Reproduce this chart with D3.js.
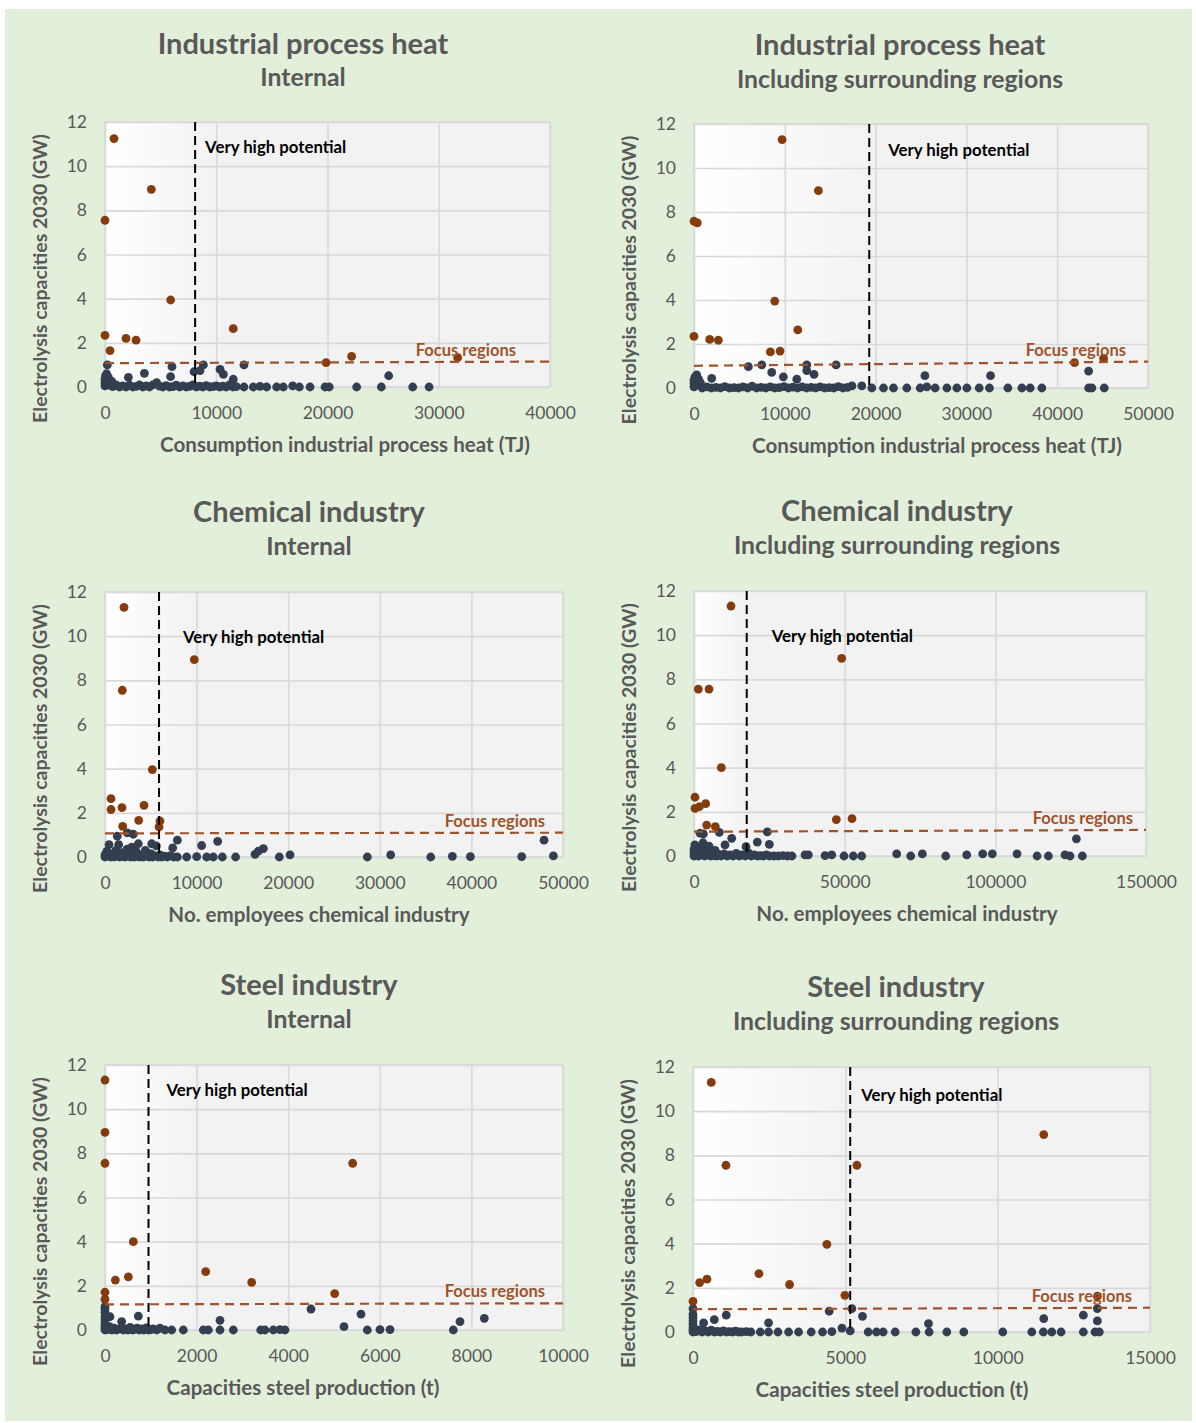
<!DOCTYPE html>
<html>
<head>
<meta charset="utf-8">
<script src="https://cdn.jsdelivr.net/npm/d3@7/dist/d3.min.js"></script>
<style>
  body { margin: 0; background: #fff; }
  text { font-family: Lato, "Open Sans", sans-serif; }
</style>
</head>
<body>
<div class="chart"></div>
<script>
// ---- data ----
const yTicks = [0, 2, 4, 6, 8, 10, 12];

const titles = ["Industrial process heat", "Industrial process heat", "Chemical industry",
                "Chemical industry", "Steel industry", "Steel industry"];
const subtitles = ["Internal", "Including surrounding regions", "Internal",
                   "Including surrounding regions", "Internal", "Including surrounding regions"];
const xTitles = ["Consumption industrial process heat (TJ)", "Consumption industrial process heat (TJ)",
                 "No. employees chemical industry", "No. employees chemical industry",
                 "Capacities steel production (t)", "Capacities steel production (t)"];
const yTitle = "Electrolysis capacities 2030 (GW)";

const xTicks = [
  [0, 10000, 20000, 30000, 40000],
  [0, 10000, 20000, 30000, 40000, 50000],
  [0, 10000, 20000, 30000, 40000, 50000],
  [0, 50000, 100000, 150000],
  [0, 2000, 4000, 6000, 8000, 10000],
  [0, 5000, 10000, 15000]
];

// "Very high potential" threshold (x value of vertical dashed line)
const potentialLimit = [8100, 19300, 5900, 17500, 950, 5160];

// "Focus regions" line: [x, y] at both ends
const focusLines = [
  [[0, 1.08], [40000, 1.15]],
  [[0, 1.01], [50000, 1.2]],
  [[0, 1.07], [50000, 1.1]],
  [[0, 1.1], [150000, 1.18]],
  [[0, 1.16], [10000, 1.21]],
  [[0, 1.03], [15000, 1.1]]
];

// focus regions (orange points)
const heatIntFocus = [[809, 11.25], [4165, 8.95], [0, 7.55], [5900, 3.94], [0, 2.34], [1890, 2.2],
  [2790, 2.12], [450, 1.65], [11530, 2.64], [19870, 1.1], [22170, 1.39], [31700, 1.33]];
const heatSurFocus = [[9700, 11.29], [13700, 8.97], [0, 7.58], [370, 7.51], [8890, 3.95], [0, 2.35],
  [1730, 2.21], [2680, 2.17], [11430, 2.64], [8410, 1.64], [9480, 1.68], [41910, 1.15], [45110, 1.35]];
const chemIntFocus = [[2074, 11.3], [9750, 8.94], [1890, 7.55], [5170, 3.96], [655, 2.64], [655, 2.15],
  [1856, 2.24], [4260, 2.34], [3680, 1.66], [1930, 1.39], [6000, 1.63], [5900, 1.36]];
const chemSurFocus = [[12280, 11.32], [49010, 8.95], [1440, 7.56], [4980, 7.56], [9070, 4.0], [330, 2.66],
  [330, 2.16], [1770, 2.23], [3880, 2.37], [4200, 1.4], [7080, 1.33], [47230, 1.65], [52440, 1.69]];
const steelIntFocus = [[0, 11.32], [0, 8.95], [0, 7.55], [5408, 7.55], [618, 4.0], [226, 2.26], [509, 2.41],
  [2198, 2.64], [3202, 2.16], [5015, 1.65], [0, 1.71], [0, 1.39]];
const steelSurFocus = [[600, 11.3], [11513, 8.94], [1082, 7.55], [5379, 7.55], [4395, 3.97], [217, 2.24],
  [459, 2.39], [2165, 2.64], [3169, 2.15], [4986, 1.66], [0, 1.39], [13272, 1.62]];

// other regions (dark points)
const heatIntOther = [[0, 0.05], [0, 0.2], [0, 0.35], [50, 0.5], [150, 0.6], [300, 0.45], [250, 0.15],
  [600, 0.25], [450, 0.08], [700, 0.02], [1000, 0.1], [1300, 0], [1600, 0.05], [1900, 0], [2200, 0.08],
  [2500, 0], [2800, 0.03], [3100, 0.1], [3400, 0], [3700, 0.05], [4000, 0], [4300, 0.1], [4640, 0.2],
  [4900, 0.04], [5200, 0], [5500, 0.06], [5800, 0], [6100, 0.02], [6400, 0.08], [6700, 0], [7000, 0.05],
  [7300, 0], [7600, 0.03], [7900, 0.1], [8200, 0], [8500, 0.04], [8800, 0], [9100, 0.06], [9400, 0],
  [9700, 0.02], [10000, 0.05], [10300, 0], [10600, 0.04], [10900, 0], [11200, 0.1], [11500, 0], [11800, 0.02],
  [210, 1.0], [2100, 0.44], [3540, 0.62], [6020, 0.92], [5900, 0.47], [8000, 0.69], [8540, 0.74], [8840, 1.0],
  [10340, 0.8], [10640, 0.57], [11530, 0.35], [12490, 1.0], [25500, 0.51],
  [12490, 0], [13330, 0], [13930, 0.03], [14530, 0], [15430, 0], [16030, 0], [16870, 0.05], [17470, 0],
  [18430, 0], [19780, 0], [20160, 0], [22620, 0], [24840, 0], [27660, 0], [29130, 0]];
const heatSurOther = [[0, 0.05], [0, 0.2], [0, 0.35], [100, 0.5], [300, 0.6], [200, 0.15], [500, 0.4],
  [700, 0.25], [900, 0], [1400, 0.05], [1900, 0], [2400, 0.03], [2900, 0], [3400, 0.06], [3900, 0],
  [4400, 0.02], [4900, 0], [5400, 0.05], [5900, 0], [6400, 0.08], [6900, 0], [7400, 0.03], [7900, 0],
  [8400, 0.05], [8900, 0], [9400, 0.02], [9900, 0.06], [10400, 0], [10900, 0.04], [11400, 0], [11900, 0.05],
  [12400, 0], [12900, 0.03], [13400, 0], [13900, 0.05], [14400, 0], [14900, 0.02], [15400, 0], [15900, 0.06],
  [16400, 0], [16900, 0.03], [17400, 0.1],
  [1950, 0.44], [5990, 0.97], [7460, 1.05], [8560, 0.71], [9840, 0.51], [11320, 0.4], [12420, 1.05],
  [12420, 0.79], [13220, 0.62], [15650, 1.05], [25430, 0.56], [32660, 0.56], [43460, 0.77],
  [18480, 0.1], [19580, 0], [20870, 0], [21970, 0], [23440, 0], [24910, 0], [25640, 0.05], [26560, 0],
  [27850, 0], [28950, 0], [30050, 0], [31410, 0], [32540, 0], [34570, 0], [36110, 0], [37030, 0],
  [38310, 0], [43460, 0], [43820, 0], [45180, 0]];
const chemIntOther = [[0, 0], [0, 0.1], [200, 0.25], [400, 0.05], [600, 0], [800, 0.15], [1000, 0],
  [1200, 0.3], [1400, 0.05], [1600, 0], [1800, 0.2], [2000, 0.02], [2200, 0], [2400, 0.35], [2600, 0.05],
  [2800, 0], [3000, 0.12], [3200, 0], [3400, 0.25], [3600, 0.03], [3800, 0], [4000, 0.1], [4200, 0],
  [4400, 0.3], [4600, 0.05], [4800, 0], [5000, 0.15], [5200, 0], [5400, 0.06], [5600, 0.5], [5800, 0],
  [6000, 0.1], [6200, 0], [6500, 0.04], [6800, 0], [7100, 0.05], [7500, 0], [7900, 0],
  [2440, 1.09], [3090, 1.03], [1340, 0.94], [440, 0.56], [1490, 0.56], [2910, 0.45], [3640, 0.6],
  [5090, 0.6], [7390, 0.41], [7900, 0.76], [10550, 0.52], [12300, 0.71], [16380, 0.12], [16740, 0.27],
  [17290, 0.38], [47930, 0.76],
  [8920, 0], [10010, 0.02], [11100, 0], [11820, 0], [12810, 0], [14260, 0], [19030, 0], [20200, 0.1],
  [28640, 0], [31190, 0.1], [35560, 0], [37920, 0.03], [39890, 0.02], [45490, 0.02], [48950, 0.05]];
const chemSurOther = [[0, 0], [0, 0.15], [0, 0.3], [300, 0.5], [600, 0.05], [1000, 0.2], [1500, 0],
  [2000, 0.4], [2500, 0.1], [3000, 0.6], [3500, 0], [4000, 0.3], [4500, 0.05], [5000, 0.45], [5500, 0],
  [6000, 0.15], [6500, 0.02], [7000, 0.25], [7500, 0], [8000, 0.08], [9000, 0], [10000, 0.1], [11000, 0],
  [12000, 0.05], [13000, 0], [14000, 0.12], [15000, 0], [16000, 0.05], [17000, 0], [18000, 0.15],
  [19000, 0], [20000, 0.05], [21000, 0], [22000, 0.02], [23000, 0], [24000, 0.05], [25000, 0], [26500, 0],
  [28000, 0], [29500, 0.02], [31000, 0], [32500, 0],
  [24330, 1.09], [21010, 0.63], [25000, 0.53], [8400, 1.07], [12510, 0.8], [10290, 0.5], [17260, 0.42],
  [1990, 1.03], [3100, 1.0], [126900, 0.78],
  [36840, 0.05], [37940, 0.05], [43480, 0.02], [45700, 0.05], [49780, 0], [52880, 0], [55650, 0],
  [67270, 0.1], [71920, 0], [75780, 0.1], [83530, 0], [90500, 0.05], [95810, 0.1], [98990, 0.1],
  [107200, 0.1], [113850, 0], [117610, 0], [123130, 0.05], [124790, 0], [128880, 0]];
const steelIntOther = [[0, 0], [0, 0.1], [0, 0.2], [0, 0.3], [0, 0.45], [0, 0.6], [0, 0.8], [0, 0.95],
  [50, 0.02], [100, 0.15], [150, 0], [200, 0.08], [250, 0], [300, 0.04], [350, 0.1], [400, 0], [450, 0.05],
  [500, 0], [550, 0.12], [600, 0], [650, 0.03], [700, 0.08], [750, 0], [800, 0.05], [850, 0], [900, 0.1],
  [950, 0], [1000, 0.02], [1050, 0.05], [1128, 0], [1200, 0.08], [1310, 0], [1456, 0], [1710, 0],
  [0, 1.06], [109, 0.6], [364, 0.38], [728, 0.63], [2511, 0.44], [4498, 0.95], [5590, 0.72], [7751, 0.38],
  [8282, 0.53], [5218, 0.15],
  [2147, 0], [2256, 0], [2511, 0], [2802, 0], [3400, 0], [3493, 0], [3675, 0], [3821, 0.02], [3930, 0],
  [5727, 0], [6004, 0.02], [6223, 0.02], [7605, 0]];
const steelSurOther = [[0, 0], [0, 0.1], [0, 0.2], [0, 0.35], [0, 0.5], [0, 0.65], [0, 0.8], [0, 1.06],
  [100, 0.02], [200, 0.1], [300, 0], [400, 0.05], [500, 0], [600, 0.08], [700, 0], [800, 0.03], [900, 0],
  [1000, 0.05], [1100, 0], [1200, 0.02], [1300, 0], [1400, 0.04], [1500, 0], [1600, 0], [1750, 0.02], [1900, 0],
  [5215, 1.06], [4471, 0.94], [5563, 0.71], [1092, 0.76], [699, 0.56], [348, 0.41], [2480, 0.41],
  [7729, 0.38], [11513, 0.61], [12812, 0.76], [13272, 1.06], [13272, 0.5], [4887, 0.18],
  [2208, 0], [2480, 0], [2788, 0], [3137, 0], [3465, 0], [3880, 0], [4251, 0], [4559, 0.02], [5160, 0.05],
  [5750, 0], [6023, 0], [6242, 0], [6636, 0], [7315, 0], [7751, 0], [8331, 0], [8888, 0], [10168, 0],
  [11120, 0], [11500, 0], [11776, 0], [12081, 0], [12812, 0], [13196, 0], [13337, 0]];

const focusSets = [heatIntFocus, heatSurFocus, chemIntFocus, chemSurFocus, steelIntFocus, steelSurFocus];
const otherSets = [heatIntOther, heatSurOther, chemIntOther, chemSurOther, steelIntOther, steelSurOther];

// ---- layout (pixel frames for each panel) ----
const frames = [
  { left: 105, right: 550, top: 122, bottom: 387, cx: 303, titleY: 54, subY: 86, xtX: 345, xtY: 452, vhpDx: 10, vhpY: 31, frDx: 34, gradEnd: 10000 },
  { left: 694, right: 1148, top: 124, bottom: 388, cx: 900, titleY: 55, subY: 88, xtX: 937, xtY: 453, vhpDx: 19, vhpY: 32, frDx: 22, gradEnd: 20000 },
  { left: 105, right: 563, top: 592, bottom: 857, cx: 309, titleY: 522, subY: 555, xtX: 319, xtY: 922, vhpDx: 24, vhpY: 51, frDx: 18, gradEnd: 10000 },
  { left: 694, right: 1146, top: 591, bottom: 856, cx: 897, titleY: 521, subY: 554, xtX: 907, xtY: 921, vhpDx: 25, vhpY: 51, frDx: 13, gradEnd: 17500 },
  { left: 105, right: 563, top: 1065, bottom: 1330, cx: 309, titleY: 995, subY: 1028, xtX: 303, xtY: 1395, vhpDx: 18, vhpY: 31, frDx: 18, gradEnd: 2000 },
  { left: 693, right: 1150, top: 1067, bottom: 1332, cx: 896, titleY: 997, subY: 1030, xtX: 892, xtY: 1397, vhpDx: 11, vhpY: 34, frDx: 18, gradEnd: 5200 }
];

const Gray = "#595959";
const FocusColor = "#843C0C";
const OtherColor = "#333F50";
const LineColor = "#A0522A";

const svg = d3.select(".chart").append("svg")
    .attr("width", 1196)
    .attr("height", 1423);

// green panel background
svg.append("rect")
    .attr("x", 5).attr("y", 9)
    .attr("width", 1187).attr("height", 1412)
    .attr("fill", "#E2EFDA");

const grad = svg.append("defs").append("linearGradient")
    .attr("id", "fade").attr("x1", 0).attr("x2", 1).attr("y1", 0).attr("y2", 0);
grad.append("stop").attr("offset", "0%").attr("stop-color", "#ffffff");
grad.append("stop").attr("offset", "100%").attr("stop-color", "#F2F2F2");

frames.forEach((f, i) => {
  const xMax = xTicks[i][xTicks[i].length - 1];
  const x = d3.scaleLinear().domain([0, xMax]).range([f.left, f.right]);
  const y = d3.scaleLinear().domain([0, 12]).range([f.bottom, f.top]);
  const w = f.right - f.left, h = f.bottom - f.top;
  const g = svg.append("g");

  // plot area
  g.append("rect").attr("x", f.left).attr("y", f.top).attr("width", w).attr("height", h)
      .attr("fill", "#F2F2F2");
  g.append("rect").attr("x", f.left).attr("y", f.top)
      .attr("width", x(f.gradEnd) - f.left).attr("height", h)
      .attr("fill", "url(#fade)");

  // y axis + horizontal grid
  const ya = g.append("g")
      .attr("transform", "translate(" + f.left + ",0)")
      .call(d3.axisLeft(y).tickValues(yTicks).tickSize(-w).tickPadding(18).tickFormat(d3.format("d")));
  // x axis + vertical grid
  const xa = g.append("g")
      .attr("transform", "translate(0," + f.bottom + ")")
      .call(d3.axisBottom(x).tickValues(xTicks[i]).tickSize(-h).tickPadding(20).tickFormat(d3.format("d")));

  [ya, xa].forEach(a => {
    a.select(".domain").remove();
    a.selectAll("line").attr("stroke", "#D9D9D9").attr("stroke-width", 1.6);
    a.selectAll("text").attr("fill", Gray).style("font-size", "17.5px");
  });

  g.append("rect").attr("x", f.left).attr("y", f.top).attr("width", w).attr("height", h)
      .attr("fill", "none").attr("stroke", "#D9D9D9").attr("stroke-width", 1.6);

  // points
  g.selectAll(".other").data(otherSets[i]).join("circle")
      .attr("class", "other")
      .attr("cx", d => x(d[0])).attr("cy", d => y(d[1])).attr("r", 4.4)
      .attr("fill", OtherColor);
  g.selectAll(".focus").data(focusSets[i]).join("circle")
      .attr("class", "focus")
      .attr("cx", d => x(d[0])).attr("cy", d => y(d[1])).attr("r", 4.4)
      .attr("fill", FocusColor);

  // focus regions line
  g.append("path")
      .datum(focusLines[i])
      .attr("d", d3.line().x(d => x(d[0])).y(d => y(d[1])))
      .attr("stroke", LineColor).attr("stroke-width", 2.2)
      .attr("stroke-dasharray", "9,6").attr("fill", "none");

  // very high potential line
  g.append("line")
      .attr("x1", x(potentialLimit[i])).attr("x2", x(potentialLimit[i]))
      .attr("y1", f.top).attr("y2", f.bottom)
      .attr("stroke", "#000").attr("stroke-width", 2)
      .attr("stroke-dasharray", "9,5");

  g.append("text")
      .attr("x", x(potentialLimit[i]) + f.vhpDx).attr("y", f.top + f.vhpY)
      .style("font-size", "16.8px").style("font-weight", "bold")
      .attr("fill", "#000")
      .text("Very high potential");

  g.append("text")
      .attr("x", f.right - f.frDx).attr("y", y(focusLines[i][1][1]) - 6)
      .attr("text-anchor", "end")
      .style("font-size", "16.5px").style("font-weight", "bold")
      .attr("fill", LineColor)
      .text("Focus regions");

  // titles
  g.append("text")
      .attr("x", f.cx).attr("y", f.titleY).attr("text-anchor", "middle")
      .style("font-size", "29px").style("font-weight", "bold").attr("fill", Gray)
      .text(titles[i]);
  g.append("text")
      .attr("x", f.cx).attr("y", f.subY).attr("text-anchor", "middle")
      .style("font-size", "24.8px").style("font-weight", "bold").attr("fill", Gray)
      .text(subtitles[i]);

  // axis titles
  g.append("text")
      .attr("x", f.xtX).attr("y", f.xtY).attr("text-anchor", "middle")
      .style("font-size", "20.6px").style("font-weight", "bold").attr("fill", Gray)
      .text(xTitles[i]);
  g.append("text")
      .attr("transform", "translate(" + (f.left - 58) + "," + ((f.top + f.bottom) / 2 + 24) + ") rotate(-90)")
      .attr("text-anchor", "middle")
      .style("font-size", "19.5px").style("font-weight", "bold").attr("fill", Gray)
      .text(yTitle);
});
</script>
</body>
</html>
